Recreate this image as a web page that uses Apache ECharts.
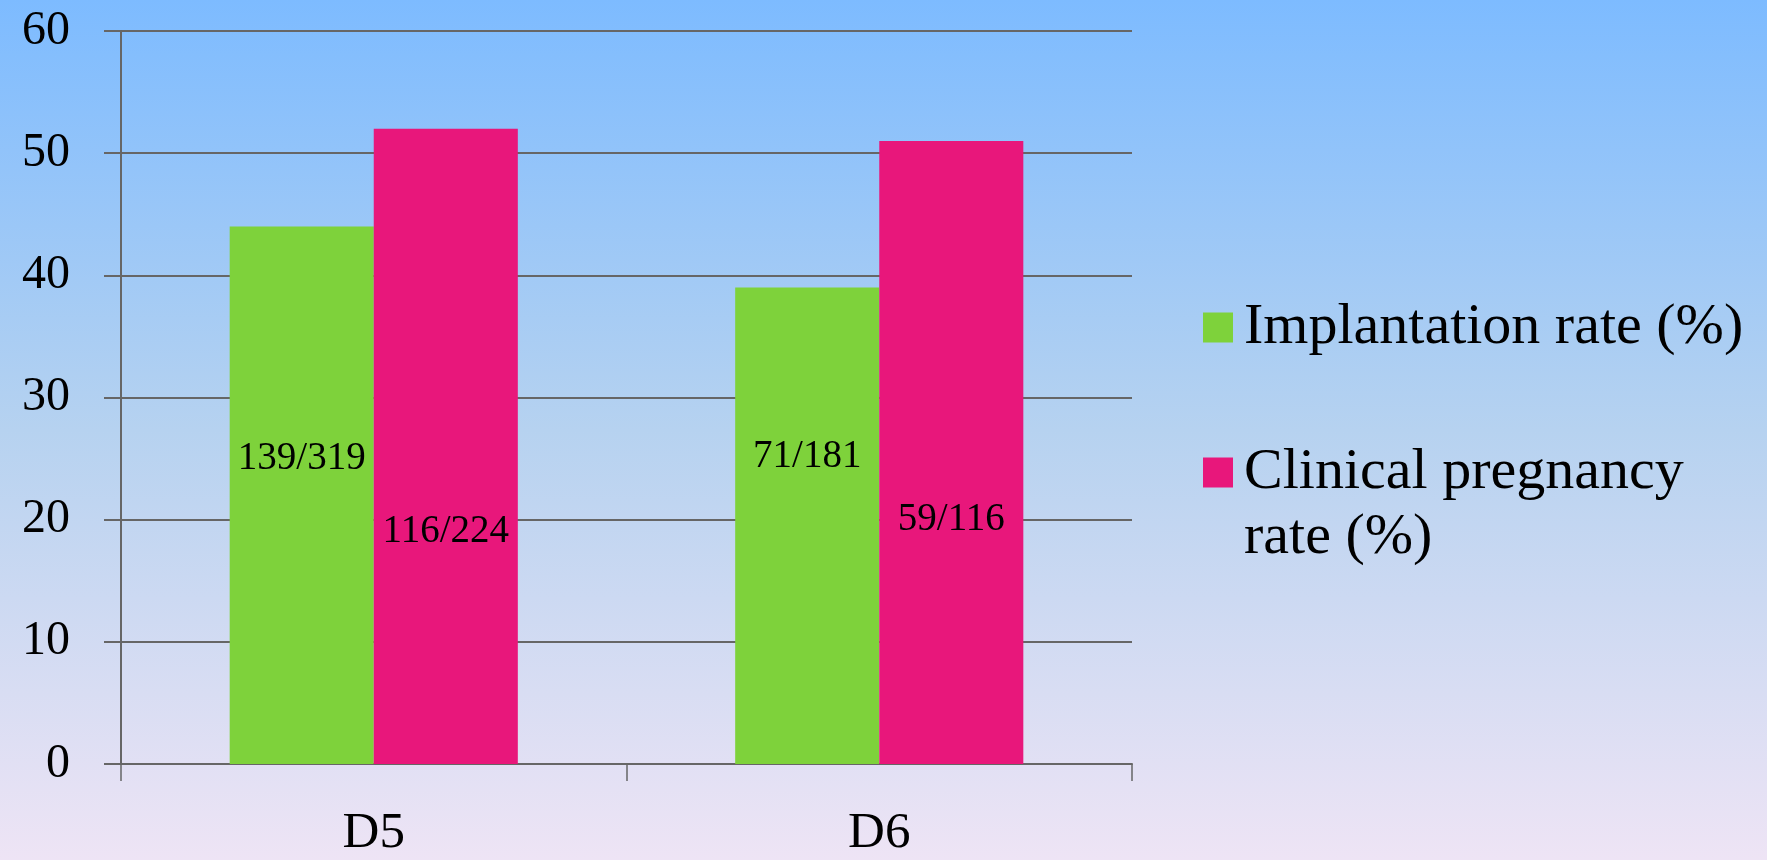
<!DOCTYPE html>
<html>
<head>
<meta charset="utf-8">
<script src="https://cdn.jsdelivr.net/npm/echarts@6/dist/echarts.min.js"></script>
<style>
html,body{margin:0;padding:0;}
#c{width:1767px;height:860px;}
</style>
</head>
<body>
<div id="c"></div>
<script>
// ---- data ----
const categories = ['D5', 'D6'];
const seriesNames = ['Implantation rate (%)', 'Clinical pregnancy rate (%)'];
const implantationRate = [44, 39];
const clinicalPregnancyRate = [52, 51];
const implantationLabels = ['139/319', '71/181'];
const pregnancyLabels = ['116/224', '59/116'];
const yTicks = [0, 10, 20, 30, 40, 50, 60];

// ---- styling (label placement offsets, not data) ----
const implantationLabelShift = [-36, -69];
const pregnancyLabelShift = [85, 67];

const FONT = 'Liberation Serif';
const GRAY = '#666666';

function buildData(values, labels, shifts) {
  return values.map((v, i) => ({
    value: v,
    label: { offset: [0, shifts[i]], formatter: labels[i] }
  }));
}

const chart = echarts.init(document.getElementById('c'), null, { renderer: 'canvas' });
chart.setOption({
  animation: false,
  backgroundColor: {
    type: 'linear', x: 0, y: 0, x2: 0, y2: 1,
    colorStops: [
      { offset: 0, color: '#7dbbff' },
      { offset: 0.5, color: '#b6d2f0' },
      { offset: 1, color: '#eee4f5' }
    ]
  },
  grid: { left: 121, right: 635, top: 31, bottom: 96 },
  legend: [
    {
      data: [seriesNames[0]],
      orient: 'vertical',
      left: 1203, top: 295,
      padding: 0,
      itemWidth: 30, itemHeight: 30, itemGap: 0,
      icon: 'rect',
      selectedMode: false,
      textStyle: { fontFamily: FONT, fontSize: 58, color: '#000', lineHeight: 65, padding: [0, 0, 0, 6] }
    },
    {
      data: [seriesNames[1]],
      orient: 'vertical',
      left: 1203, top: 375,
      padding: 0,
      itemWidth: 30, itemHeight: 30, itemGap: 0,
      icon: 'rect',
      selectedMode: false,
      formatter: () => ' \nClinical pregnancy\nrate (%)',
      textStyle: { fontFamily: FONT, fontSize: 58, color: '#000', lineHeight: 65, padding: [0, 0, 0, 6] }
    }
  ],
  xAxis: {
    type: 'category',
    data: categories,
    boundaryGap: true,
    axisLine: { show: true, lineStyle: { color: GRAY, width: 2 } },
    axisTick: { show: true, length: 17, alignWithLabel: false, lineStyle: { color: GRAY, width: 1.5 } },
    axisLabel: { fontFamily: FONT, fontSize: 51, color: '#000', margin: 44 },
    splitLine: { show: false }
  },
  yAxis: {
    type: 'value',
    min: yTicks[0], max: yTicks[yTicks.length - 1], interval: 10,
    axisLine: { show: true, lineStyle: { color: GRAY, width: 2 } },
    axisTick: { show: true, length: 17, lineStyle: { color: GRAY, width: 2 } },
    axisLabel: { fontFamily: FONT, fontSize: 48, color: '#000', margin: 51 },
    splitLine: { show: true, lineStyle: { color: GRAY, width: 2 } }
  },
  series: [
    {
      name: seriesNames[0],
      type: 'bar',
      data: buildData(implantationRate, implantationLabels, implantationLabelShift),
      itemStyle: { color: '#7ed23b' },
      barGap: '0%',
      barCategoryGap: '43%',
      label: { show: true, position: 'inside', fontFamily: FONT, fontSize: 39, color: '#000' }
    },
    {
      name: seriesNames[1],
      type: 'bar',
      data: buildData(clinicalPregnancyRate, pregnancyLabels, pregnancyLabelShift),
      itemStyle: { color: '#e8177b' },
      barGap: '0%',
      barCategoryGap: '43%',
      label: { show: true, position: 'inside', fontFamily: FONT, fontSize: 39, color: '#000' }
    }
  ]
});
</script>
</body>
</html>
